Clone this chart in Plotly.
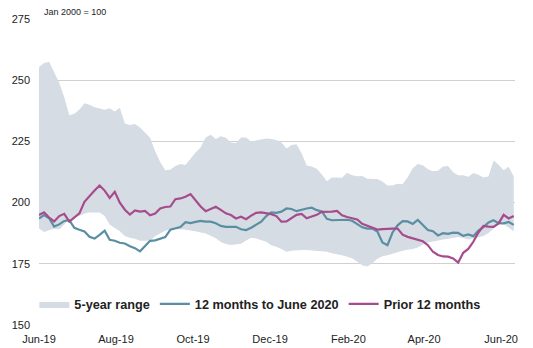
import plotly.graph_objects as go
import pandas as pd

# Sample dates (every 4 days from 1 Jun 2019)
dates = pd.date_range("2019-06-01", periods=95, freq="4D")

range_upper = [255.4, 257.0, 257.5, 253.3, 249.0, 243.0, 235.7, 236.3, 238.0, 240.6,
               240.0, 239.0, 238.4, 237.9, 238.5, 237.2, 238.7, 232.3, 231.7, 232.1,
               230.7, 228.6, 226.5, 221.0, 216.6, 213.2, 213.4, 215.0, 215.8, 215.4,
               218.1, 220.5, 222.5, 226.6, 227.7, 226.0, 227.1, 226.5, 224.5, 224.3,
               226.6, 226.6, 225.0, 225.5, 226.0, 226.2, 226.0, 225.6, 224.5, 222.1,
               223.5, 223.8, 220.2, 215.2, 214.7, 213.8, 211.5, 208.7, 210.3, 210.1,
               210.2, 212.2, 211.2, 210.8, 210.9, 209.7, 209.5, 209.6, 208.6, 207.0,
               207.0, 207.7, 207.5, 210.4, 214.0, 215.8, 215.3, 213.6, 212.8, 213.0,
               214.7, 215.0, 212.4, 211.2, 211.2, 210.6, 212.1, 211.4, 210.3, 210.7,
               217.2, 215.5, 213.2, 214.6, 210.6]

range_lower = [189.4, 188.0, 188.7, 189.3, 189.0, 191.0, 193.0, 194.0, 194.5, 195.5,
               196.0, 196.0, 196.0, 194.5, 191.0, 189.6, 188.3, 186.4, 185.6, 185.2,
               184.4, 184.4, 184.5, 186.3, 187.5, 188.5, 189.2, 189.3, 189.1, 188.9,
               188.7, 188.3, 187.8, 187.4, 186.5, 185.4, 183.9, 183.1, 182.7, 182.8,
               183.2, 184.5, 185.6, 185.3, 184.5, 184.0, 182.6, 182.0, 181.0, 179.9,
               180.3, 180.6, 180.6, 180.6, 180.5, 180.3, 180.1, 179.9, 179.3, 179.0,
               178.5, 177.9, 177.3, 175.8, 174.4, 173.9, 175.2, 177.1, 178.1, 178.5,
               179.2, 179.9, 180.3, 180.7, 181.0, 181.7, 182.9, 183.7, 184.2, 184.6,
               184.9, 185.2, 185.5, 185.9, 185.5, 184.9, 185.3, 186.0, 186.4, 187.6,
               189.5, 191.2, 191.2, 189.9, 188.3]

last_12m = [193.5, 194.9, 193.6, 190.2, 191.1, 192.5, 192.8, 189.7, 188.9, 188.2,
            186.0, 185.3, 186.8, 188.5, 184.8, 184.4, 183.6, 183.3, 182.2, 181.4,
            180.1, 182.3, 184.4, 184.6, 185.2, 185.9, 188.9, 189.4, 190.0, 192.0,
            191.6, 192.1, 192.5, 192.2, 192.2, 191.6, 190.5, 190.1, 190.1, 190.1,
            189.1, 188.8, 189.7, 190.8, 192.2, 194.5, 196.0, 195.8, 196.3, 197.6,
            197.4, 196.5, 197.1, 197.6, 197.9, 196.9, 196.4, 193.4, 192.8, 192.8,
            193.0, 193.0, 192.6, 191.2, 189.9, 189.4, 189.4, 188.2, 183.7, 182.6,
            187.8, 190.7, 192.4, 192.3, 191.3, 192.9, 190.8, 188.8, 188.3, 186.6,
            187.5, 187.2, 187.7, 187.6, 186.4, 187.0, 186.3, 188.6, 190.0, 191.9,
            192.8, 191.6, 191.5, 192.1, 190.9]

prior_12m = [194.9, 196.0, 193.9, 192.3, 194.5, 195.4, 192.2, 193.8, 195.6, 200.3,
             202.7, 204.9, 207.0, 204.9, 201.9, 204.4, 200.0, 197.1, 195.1, 196.8,
             196.3, 196.6, 194.8, 195.5, 197.6, 198.2, 198.4, 201.4, 201.7, 202.4,
             203.5, 200.9, 198.4, 196.5, 197.4, 198.3, 197.0, 195.6, 194.9, 193.5,
             194.2, 193.2, 194.7, 195.8, 196.0, 195.6, 195.3, 194.5, 192.2, 192.3,
             193.6, 195.0, 195.4, 193.6, 194.3, 195.0, 196.2, 196.2, 196.3, 196.6,
             194.8, 194.1, 193.5, 193.1, 191.3, 190.5, 189.5, 189.0, 189.2, 189.4,
             189.4, 189.4, 186.9, 186.0, 185.5, 185.0, 184.2, 182.6, 179.9, 178.6,
             178.0, 177.9, 177.2, 175.5, 179.5, 181.1, 184.0, 187.8, 190.5, 190.2,
             190.1, 191.5, 195.0, 193.5, 194.5]

names = ["5-year range", "12 months to June 2020", "Prior 12 months"]
band_color = "#d6dce4"
teal = "#5a8ea2"
magenta = "#a64b8b"

fig = go.Figure()
fig.add_trace(go.Scatter(x=dates, y=range_lower, mode="lines",
                         line=dict(width=0, color=band_color),
                         showlegend=False, hoverinfo="skip"))
fig.add_trace(go.Scatter(x=dates, y=range_upper, mode="lines", fill="tonexty",
                         fillcolor=band_color, line=dict(width=0, color=band_color),
                         name=names[0]))
fig.add_trace(go.Scatter(x=dates, y=last_12m, mode="lines",
                         line=dict(width=2.2, color=teal), name=names[1]))
fig.add_trace(go.Scatter(x=dates, y=prior_12m, mode="lines",
                         line=dict(width=2.2, color=magenta), name=names[2]))

fig.update_layout(
    width=533, height=348,
    margin=dict(l=39, r=18, t=19, b=23),
    paper_bgcolor="white", plot_bgcolor="white",
    font=dict(family="Liberation Sans, Arial, sans-serif", size=11, color="#222222"),
    showlegend=True,
    legend=dict(orientation="h", x=0.464, xanchor="center", y=0.068, yanchor="middle",
                font=dict(size=12.7, weight="bold", color="#222222"),
                bgcolor="rgba(0,0,0,0)", itemwidth=30, traceorder="normal"),
    annotations=[dict(text="Jan 2000 = 100", xref="paper", yref="paper",
                      x=0.006, y=1.023, xanchor="left", yanchor="middle",
                      showarrow=False, font=dict(size=9, color="#222222"))],
)
fig.update_xaxes(range=["2019-06-01", "2020-06-12"], tick0="2019-06-01", dtick="M2",
                 tickformat="%b-%y", showgrid=False, zeroline=False, showline=False,
                 ticks="", ticklabelstandoff=6, automargin=False)
fig.update_yaxes(range=[150, 275], dtick=25, showgrid=True, gridcolor="#d0d0d0",
                 gridwidth=1, zeroline=False, showline=False, ticks="",
                 ticklabelstandoff=8, automargin=False)

fig.write_html("out.html")
